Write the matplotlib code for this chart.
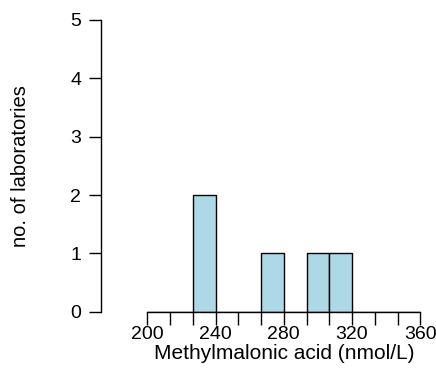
import matplotlib
matplotlib.use("Agg")
import matplotlib.pyplot as plt
import numpy as np

plt.rcParams["font.family"] = ["Liberation Sans", "DejaVu Sans"]

# histogram bins (12 bins from 200 to 360) and counts per bin
bin_edges = np.linspace(200, 360, 13)
counts = [0, 0, 2, 0, 0, 1, 0, 1, 1, 0, 0, 0]
x_ticklabels = [200, 240, 280, 320, 360]
y_ticks = [0, 1, 2, 3, 4, 5]

fig = plt.figure(figsize=(4.36, 3.70), dpi=100)
ax = fig.add_axes([0.3378, 0.1576, 0.6261, 0.7884])

ax.bar(bin_edges[:-1], counts, width=np.diff(bin_edges), align="edge",
       color="#ADD8E6", edgecolor="black", linewidth=1.0)

ax.set_xlim(200, 360)
ax.set_ylim(0, 5)

ax.spines["top"].set_visible(False)
ax.spines["right"].set_visible(False)
ax.spines["left"].set_position(("outward", 33))
ax.spines["left"].set_bounds(0, 5)
ax.spines["bottom"].set_bounds(200, 360)
for s in ("left", "bottom"):
    ax.spines[s].set_linewidth(1.0)

ax.set_xticks(bin_edges)
ax.set_xticklabels([str(int(v)) if int(round(v)) in x_ticklabels else "" for v in bin_edges])
ax.set_yticks(y_ticks)
ax.tick_params(axis="x", length=9, width=1.0, labelsize=14, pad=1.5)
ax.tick_params(axis="y", length=8.5, width=1.0, labelsize=14, pad=6)

ax.set_xlabel("Methylmalonic acid (nmol/L)", fontsize=15, labelpad=0.5)
ax.set_ylabel("no. of laboratories", fontsize=14.5, labelpad=29)

fig.savefig("out.png", dpi=100)
